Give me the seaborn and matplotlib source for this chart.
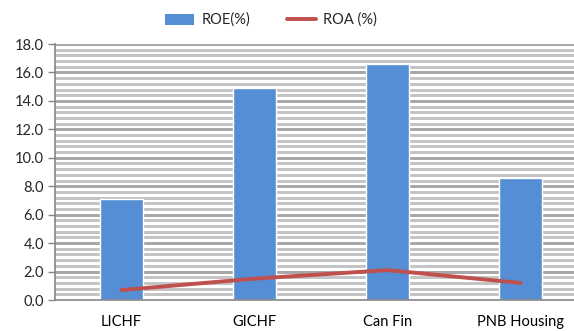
import matplotlib as mpl
mpl.use('Agg')
import matplotlib.pyplot as plt
from matplotlib.ticker import FixedLocator, NullFormatter
from matplotlib.patches import Patch
from matplotlib.lines import Line2D
import seaborn as sns
import pandas as pd
import numpy as np

companies = ['LICHF', 'GICHF', 'Can Fin', 'PNB Housing']
roe = [7.1, 14.9, 16.6, 8.6]
roa = [0.7, 1.5, 2.1, 1.2]

df = pd.DataFrame({'company': companies, 'ROE': roe, 'ROA': roa})

sns.set_style('white')
plt.rcParams['font.family'] = ['Lato', 'DejaVu Sans']

fig = plt.figure(figsize=(5.74, 3.31), dpi=100)
ax = fig.add_axes([55 / 574, 1 - 300 / 331, (587 - 55) / 574, (300 - 44) / 331])

bar_col = '#558ed5'
line_col = '#c0504d'

sns.barplot(data=df, x='company', y='ROE', color=bar_col, width=0.32,
            saturation=1, ax=ax, zorder=3)
sns.lineplot(data=df, x='company', y='ROA', color=line_col, linewidth=2.8,
             ax=ax, zorder=4, sort=False)

ax.set_xlim(-0.5, 3.5)
ax.set_ylim(0, 18)
ax.set_yticks(np.arange(0, 18.01, 2))
ax.yaxis.set_major_formatter(mpl.ticker.FormatStrFormatter('%.1f'))

# gridlines: major every 2, minor every 0.4 (Excel style)
for k in range(1, 46):
    major = (k % 5 == 0)
    ax.axhline(k * 0.4, color='#a8a8a8' if major else '#c4c4c4',
               linewidth=1.0, antialiased=False, zorder=1.5)
ax.grid(False)

ax.xaxis.set_minor_locator(FixedLocator([0.5, 1.5, 2.5]))
ax.xaxis.set_minor_formatter(NullFormatter())
ax.tick_params(axis='x', which='major', length=0, pad=11, labelsize=10.5,
               colors='#000000')
ax.tick_params(axis='x', which='minor', length=5, color='#868686', width=1)
ax.tick_params(axis='y', which='major', left=True, length=5, color='#868686',
               width=1, labelsize=10.5, pad=3)

for side in ['top', 'right']:
    ax.spines[side].set_visible(False)
for side in ['left', 'bottom']:
    ax.spines[side].set_color('#868686')
    ax.spines[side].set_linewidth(1.2)
    ax.spines[side].set_zorder(5)

ax.set_xlabel('')
ax.set_ylabel('')

handles = [Patch(facecolor=bar_col, edgecolor='none'),
           Line2D([0], [0], color=line_col, linewidth=2.8)]
fig.legend(handles, ['ROE(%)', 'ROA (%)'], loc='center',
           bbox_to_anchor=(271 / 574, 1 - 20 / 331), ncol=2, frameon=False,
           fontsize=10.5, handlelength=2.0, handleheight=0.8,
           columnspacing=2.5, handletextpad=0.5)

fig.savefig('out.png', dpi=100)
